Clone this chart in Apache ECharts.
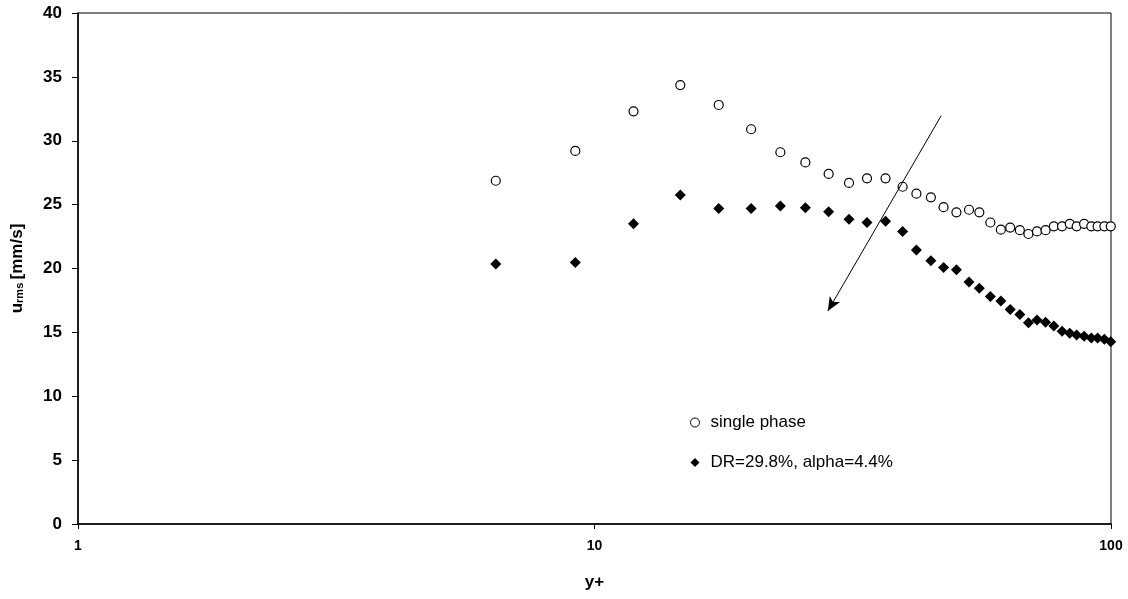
<!DOCTYPE html>
<html>
<head>
<meta charset="utf-8">
<script src="https://cdn.jsdelivr.net/npm/echarts@6/dist/echarts.min.js"></script>
<style>html,body{margin:0;padding:0;background:#fff;}#c{width:1128px;height:599px;}</style>
</head>
<body>
<div id="c"></div>
<script>
// y+ positions (shared by both series)
var yPlus = [6.44, 9.18, 11.9, 14.66, 17.4, 20.1, 22.9, 25.6, 28.4, 31.1, 33.7, 36.6, 39.5, 42.0, 44.8, 47.4, 50.2, 53.1, 55.6, 58.4, 61.2, 63.8, 66.6, 69.2, 71.9, 74.7, 77.5, 80.4, 83.2, 85.8, 88.7, 91.6, 94.2, 97.1, 99.9];
// u_rms single phase
var singlePhase = [26.87, 29.2, 32.3, 34.36, 32.8, 30.9, 29.1, 28.3, 27.4, 26.7, 27.06, 27.06, 26.4, 25.86, 25.57, 24.8, 24.4, 24.6, 24.4, 23.6, 23.04, 23.2, 23.0, 22.7, 22.9, 23.0, 23.3, 23.3, 23.5, 23.3, 23.5, 23.3, 23.3, 23.3, 23.3];
// u_rms DR=29.8%, alpha=4.4%
var drSeries = [20.35, 20.46, 23.5, 25.75, 24.7, 24.7, 24.9, 24.76, 24.45, 23.85, 23.6, 23.7, 22.9, 21.45, 20.6, 20.07, 19.9, 18.95, 18.45, 17.8, 17.45, 16.8, 16.4, 15.76, 15.97, 15.8, 15.5, 15.08, 14.93, 14.8, 14.7, 14.56, 14.56, 14.46, 14.27];
// arrow annotation (start, end) in data coordinates
var arrowStart = [46.9, 31.96];
var arrowEnd = [28.3, 16.67];
var seriesNames = ['single phase', 'DR=29.8%, alpha=4.4%'];
var xTickLabels = ['1', '10', '100'];

function pairs(xs, ys) { return xs.map(function (x, i) { return [x, ys[i]]; }); }

var chart = echarts.init(document.getElementById('c'));
var font = '"Liberation Sans", Arial, sans-serif';
chart.setOption({
  animation: false,
  backgroundColor: '#fff',
  grid: { left: 78, right: 17, top: 13, bottom: 75, show: true, borderColor: '#000', borderWidth: 1, backgroundColor: 'transparent' },
  legend: {
    orient: 'vertical', left: 685, top: 409, itemGap: 23, itemWidth: 9, itemHeight: 9,
    textStyle: { fontFamily: font, fontSize: 17, color: '#000', padding: [0, 0, 0, 6] },
    data: [
      { name: seriesNames[0], itemStyle: { color: '#fff', borderColor: '#000', borderWidth: 1 } },
      { name: seriesNames[1], itemStyle: { color: '#000' } }
    ]
  },
  xAxis: {
    type: 'log', logBase: 10, min: 1, max: 100,
    name: 'y+', nameLocation: 'middle', nameGap: 50,
    nameTextStyle: { fontFamily: font, fontSize: 17, fontWeight: 'bold', color: '#000' },
    axisLine: { show: true, onZero: false, lineStyle: { color: '#000', width: 1.5 } },
    axisTick: { show: true, inside: false, length: 5, lineStyle: { color: '#000' } },
    axisLabel: { fontFamily: font, fontSize: 14, fontWeight: 'bold', color: '#000', margin: 15,
      formatter: function (v) { var s = String(Math.round(v)); return xTickLabels.indexOf(s) >= 0 ? s : ''; } },
    splitLine: { show: false }
  },
  yAxis: {
    type: 'value', min: 0, max: 40, interval: 5,
    name: '{u|u}{s|rms} {u|[mm/s]}', nameLocation: 'middle', nameRotate: 90, nameGap: 52,
    nameTextStyle: { rich: {
      u: { fontFamily: font, fontSize: 17, fontWeight: 'bold', color: '#000' },
      s: { fontFamily: font, fontSize: 11, fontWeight: 'bold', color: '#000', padding: [4, 0, 0, 0] }
    } },
    axisLine: { show: true, lineStyle: { color: '#000', width: 1.5 } },
    axisTick: { show: true, inside: false, length: 6, lineStyle: { color: '#000' } },
    axisLabel: { fontFamily: font, fontSize: 17, fontWeight: 'bold', color: '#000', margin: 16 },
    splitLine: { show: false }
  },
  series: [
    {
      name: seriesNames[0], type: 'scatter', symbol: 'circle', symbolSize: 9,
      itemStyle: { color: '#fff', borderColor: '#000', borderWidth: 1.2, opacity: 1 },
      data: pairs(yPlus, singlePhase), z: 3,
      markLine: {
        silent: true, symbol: ['none', 'arrow'], symbolSize: [9, 14],
        lineStyle: { color: '#000', width: 1, type: 'solid' },
        label: { show: false },
        data: [[{ coord: arrowStart }, { coord: arrowEnd }]]
      }
    },
    {
      name: seriesNames[1], type: 'scatter', symbol: 'diamond', symbolSize: 11,
      itemStyle: { color: '#000', opacity: 1 },
      data: pairs(yPlus, drSeries), z: 2
    }
  ]
});
</script>
</body>
</html>
